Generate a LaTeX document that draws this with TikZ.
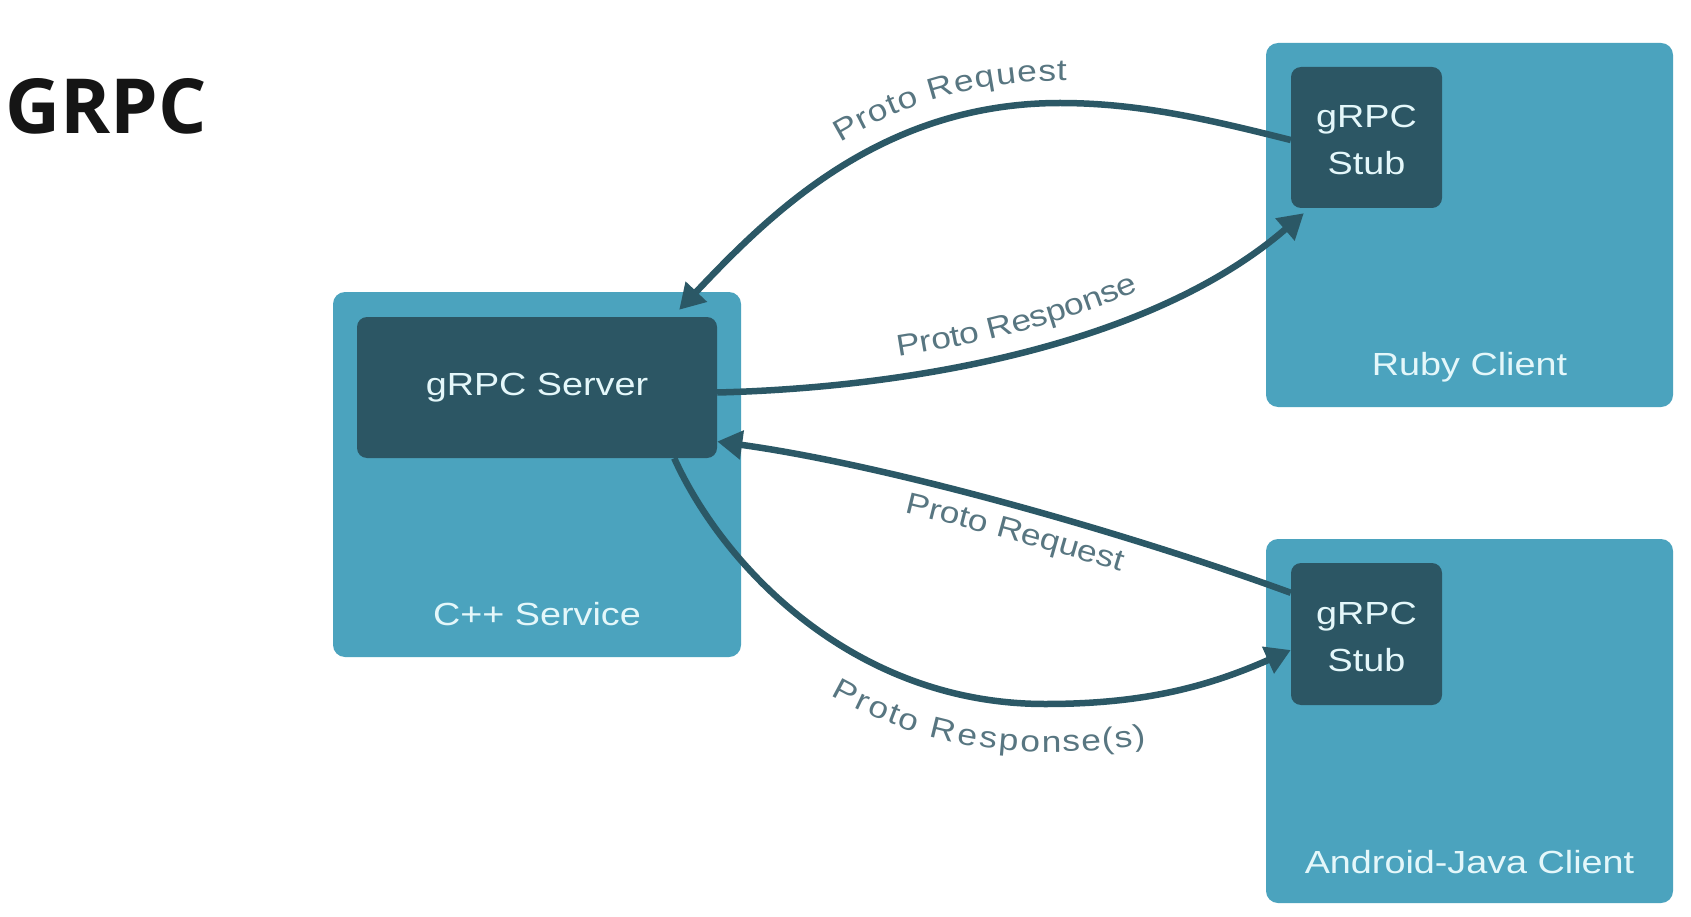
\documentclass[tikz,border=0pt]{standalone}
\usepackage{fontspec}
\usetikzlibrary{arrows.meta,decorations.text}

\newfontfamily\boxfont[FakeStretch=1.18]{Liberation Sans}
\newfontfamily\titlefont{Open Sans}
\newcommand\lblfmt{\boxfont\fontsize{30}{36}\selectfont\color{lblc}}

\definecolor{outerc}{HTML}{4BA3BE}
\definecolor{innerc}{HTML}{2C5664}
\definecolor{wirec}{HTML}{2B5866}
\definecolor{lblc}{HTML}{587681}
\definecolor{boxtxt}{HTML}{E4F7FA}
\definecolor{titlec}{HTML}{151515}

\tikzset{
  outerbox/.style={fill=outerc, rounded corners=12pt, minimum width=407pt, minimum height=364pt, inner sep=0pt},
  innerbox/.style={fill=innerc, rounded corners=10pt, inner sep=0pt, text=boxtxt, align=center, font=\boxfont\fontsize{32}{47}\selectfont},
  boxlabel/.style={text=boxtxt, inner sep=0pt, anchor=base, font=\boxfont\fontsize{32}{38}\selectfont},
  wire/.style={draw=wirec, line width=6.5pt},
  wiretext/.style={postaction={decorate, decoration={text along path, text align=center, #1}}},
  >={Triangle[length=25pt,width=28pt]}
}

\begin{document}
\begin{tikzpicture}[x=1pt,y=-1pt]
\fill[white] (0,0) rectangle (1691,917);
\useasboundingbox (0,0) rectangle (1691,917);

\node[anchor=base west, inner sep=0pt, text=titlec, font=\titlefont\bfseries\fontsize{76}{80}\selectfont] (title) at (5,134) {GRPC};

%outer boxes
\node[outerbox, minimum width=408pt, minimum height=365pt] (cpp) at (537,474.5) {};
\node[outerbox] (ruby) at (1469.5,225) {};
\node[outerbox] (android) at (1469.5,721) {};

%inner boxes
\node[innerbox, minimum width=360pt, minimum height=141pt] (srv) at (537,387.5) {gRPC Server};
\node[innerbox, minimum width=151pt, minimum height=141pt] (rstub) at (1366.5,137.5) {\\[-19pt]gRPC\\Stub};
\node[innerbox, minimum width=151pt, minimum height=142pt] (astub) at (1366.5,634) {\\[-19pt]gRPC\\Stub};

%box names
\node[boxlabel] (cppname) at (537,625) {C++ Service};
\node[boxlabel] (rubyname) at (1469.5,375) {Ruby Client};
\node[boxlabel] (androidname) at (1469.5,873) {Android-Java Client};

%ruby side
\draw[wire, <-, wiretext={raise=22pt, text={|\lblfmt|Proto Request}}] ([xshift=-38pt,yshift=7pt]srv.north east) .. controls +(90,-95) and +(-180,0) .. (1060,103) .. controls +(80,0) and +(-80,-20) .. ([yshift=-2.5pt]rstub.west);
\draw[wire, ->, wiretext={raise=20pt, text={|\lblfmt|Proto Response}}] ([yshift=-5pt]srv.east) .. controls +(200,-5) and +(-150,130) .. ([xshift=13pt,yshift=-5pt]rstub.south west);

%android side
\draw[wire, <-, wiretext={raise=-34pt, text align={center, left indent=30pt}, text={|\lblfmt|Proto Request}}] ([yshift=-54pt]srv.east) .. controls +(180,25) and +(-150,-55) .. ([yshift=-30pt]astub.north west);
\draw[wire, ->, wiretext={raise=-48pt, text align={center, left indent=110pt}, text={|\lblfmt|Proto Response(s)}}] ([xshift=-43pt]srv.south east) .. controls +(50,110) and +(-190,0) .. (1045,704) .. controls +(90,0) and +(-90,40) .. ([yshift=-16pt]astub.west);
\end{tikzpicture}
\end{document}
